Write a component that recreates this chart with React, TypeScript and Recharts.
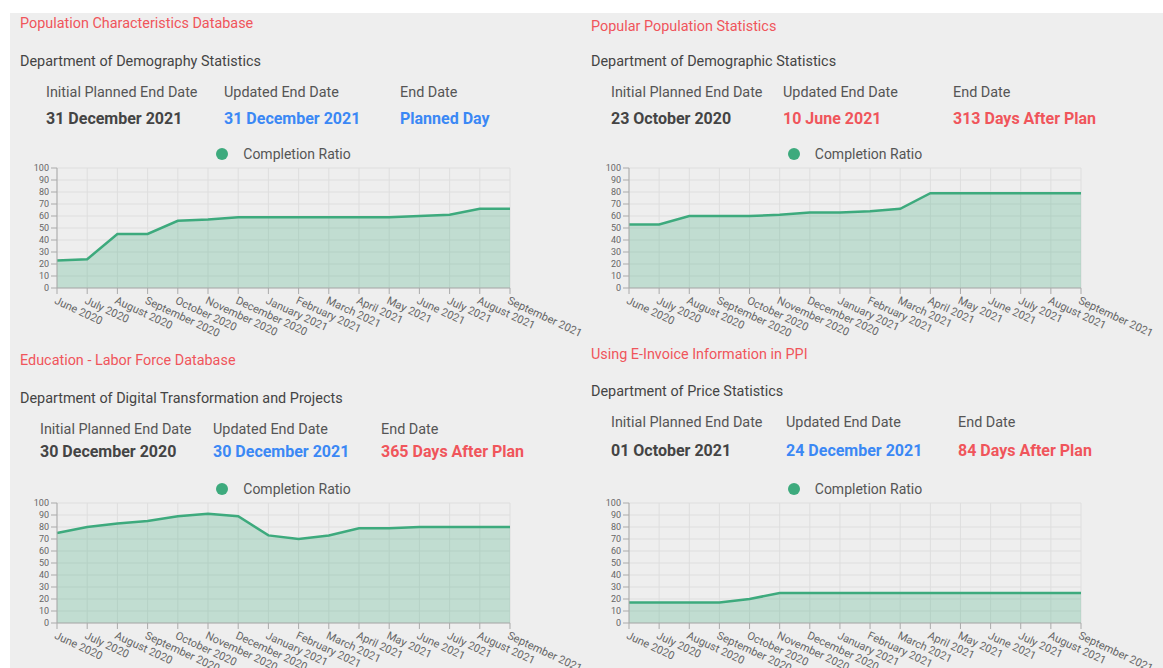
import { AreaChart, Area, XAxis, YAxis, CartesianGrid, Legend } from 'recharts';

const months = [
  'June 2020', 'July 2020', 'August 2020', 'September 2020', 'October 2020', 'November 2020',
  'December 2020', 'January 2021', 'February 2021', 'March 2021', 'April 2021', 'May 2021',
  'June 2021', 'July 2021', 'August 2021', 'September 2021',
];

const populationCharacteristics = [23, 24, 45, 45, 56, 57, 59, 59, 59, 59, 59, 59, 60, 61, 66, 66];
const popularPopulation = [53, 53, 60, 60, 60, 61, 63, 63, 64, 66, 79, 79, 79, 79, 79, 79];
const educationLabor = [75, 80, 83, 85, 89, 91, 89, 73, 70, 73, 79, 79, 80, 80, 80, 80];
const eInvoice = [17, 17, 17, 17, 20, 25, 25, 25, 25, 25, 25, 25, 25, 25, 25, 25];

const yTicks = [0, 10, 20, 30, 40, 50, 60, 70, 80, 90, 100];

const titles = [
  'Population Characteristics Database',
  'Popular Population Statistics',
  'Education - Labor Force Database',
  'Using E-Invoice Information in PPI',
];
const departments = [
  'Department of Demography Statistics',
  'Department of Demographic Statistics',
  'Department of Digital Transformation and Projects',
  'Department of Price Statistics',
];
const plannedDates = ['31 December 2021', '23 October 2020', '30 December 2020', '01 October 2021'];
const updatedDates = ['31 December 2021', '10 June 2021', '30 December 2021', '24 December 2021'];
const endDates = ['Planned Day', '313 Days After Plan', '365 Days After Plan', '84 Days After Plan'];

const GREEN = '#3daa7d';
const BLUE = '#3b88f5';
const RED = '#f0555b';
const FONT = 'Roboto, "Noto Sans", sans-serif';

// layout per panel (page coordinates)
const panels = [
  { series: populationCharacteristics, updatedColor: BLUE, endColor: BLUE, titleX: 20, titleY: 24, subY: 62, labelY: 93, valueY: 119, cols: [46, 224, 400], plotLeft: 57, plotRight: 510, plotTop: 168 },
  { series: popularPopulation, updatedColor: RED, endColor: RED, titleX: 591, titleY: 27, subY: 62, labelY: 93, valueY: 119, cols: [611, 783, 953], plotLeft: 629, plotRight: 1081, plotTop: 168 },
  { series: educationLabor, updatedColor: BLUE, endColor: RED, titleX: 20, titleY: 361, subY: 399, labelY: 430, valueY: 452, cols: [40, 213, 381], plotLeft: 57, plotRight: 510, plotTop: 503 },
  { series: eInvoice, updatedColor: BLUE, endColor: RED, titleX: 591, titleY: 355, subY: 392, labelY: 423, valueY: 451, cols: [611, 786, 958], plotLeft: 629, plotRight: 1081, plotTop: 503 },
];

const Y_AXIS_W = 30;
const LEGEND_H = 28;
const M_TOP = 0;
const M_RIGHT = 90;
const PLOT_H = 120;
const X_AXIS_H = 62;

function TextAt({ x, y, children, style }: { x: number; y: number; children: any; style?: any }) {
  return (
    <div style={{ position: 'absolute', left: x, top: y - 10, height: 20, lineHeight: '20px', whiteSpace: 'nowrap', ...style }}>
      {children}
    </div>
  );
}

function LegendContent() {
  return (
    <div style={{ height: LEGEND_H, lineHeight: LEGEND_H + 'px', textAlign: 'center', fontFamily: FONT, fontSize: 14, color: '#555' }}>
      <span style={{ display: 'inline-block', width: 12, height: 12, borderRadius: 6, background: GREEN, marginRight: 15, verticalAlign: -1 }} />
      Completion Ratio
    </div>
  );
}

function Panel({ idx }: { idx: number }) {
  const p = panels[idx];
  const data = months.map((m, i) => ({ month: m, value: p.series[i] }));
  const plotW = p.plotRight - p.plotLeft;
  const chartLeft = p.plotLeft - Y_AXIS_W;
  const chartTop = p.plotTop - M_TOP - LEGEND_H;
  const labelStyle = { fontSize: 14.4, color: '#555' };
  const valueStyle = { fontSize: 16, fontWeight: 700 };
  return (
    <>
      <TextAt x={p.titleX} y={p.titleY} style={{ fontSize: 14.4, color: RED }}>{titles[idx]}</TextAt>
      <TextAt x={p.titleX} y={p.subY} style={{ fontSize: 14.4, color: '#444' }}>{departments[idx]}</TextAt>
      <TextAt x={p.cols[0]} y={p.labelY} style={labelStyle}>Initial Planned End Date</TextAt>
      <TextAt x={p.cols[1]} y={p.labelY} style={labelStyle}>Updated End Date</TextAt>
      <TextAt x={p.cols[2]} y={p.labelY} style={labelStyle}>End Date</TextAt>
      <TextAt x={p.cols[0]} y={p.valueY} style={{ ...valueStyle, color: '#444' }}>{plannedDates[idx]}</TextAt>
      <TextAt x={p.cols[1]} y={p.valueY} style={{ ...valueStyle, color: p.updatedColor }}>{updatedDates[idx]}</TextAt>
      <TextAt x={p.cols[2]} y={p.valueY} style={{ ...valueStyle, color: p.endColor }}>{endDates[idx]}</TextAt>
      <div style={{ position: 'absolute', left: chartLeft, top: chartTop }}>
        <AreaChart
          width={Y_AXIS_W + plotW + M_RIGHT}
          height={M_TOP + LEGEND_H + PLOT_H + X_AXIS_H}
          data={data}
          margin={{ top: M_TOP, right: M_RIGHT, bottom: 0, left: 0 }}
        >
          <CartesianGrid stroke="#dedede" />
          <XAxis
            dataKey="month"
            interval={0}
            height={X_AXIS_H}
            stroke="#aaa"
            tick={{ angle: 25, textAnchor: 'start', fontSize: 11, fill: '#666', fontFamily: FONT }}
          />
          <YAxis
            width={Y_AXIS_W}
            domain={[0, 100]}
            ticks={yTicks}
            interval={0}
            stroke="#aaa"
            tick={{ fontSize: 9, fill: '#666', fontFamily: FONT }}
          />
          <Legend
            verticalAlign="top"
            content={<LegendContent />}
            wrapperStyle={{ left: Y_AXIS_W, width: plotW }}
          />
          <Area
            type="linear"
            dataKey="value"
            name="Completion Ratio"
            stroke={GREEN}
            strokeWidth={2.5}
            fill={GREEN}
            fillOpacity={0.25}
            dot={false}
            activeDot={false}
            isAnimationActive={false}
          />
        </AreaChart>
      </div>
    </>
  );
}

export default function App() {
  return (
    <div style={{ position: 'relative', width: 1163, height: 668, background: '#fff', fontFamily: FONT, overflow: 'hidden' }}>
      <style>{'body{margin:0} .recharts-surface{overflow:visible}'}</style>
      <div style={{ position: 'absolute', left: 10, top: 13, right: 0, bottom: 0, background: '#eeeeee' }} />
      {panels.map((_, i) => (
        <Panel key={i} idx={i} />
      ))}
    </div>
  );
}
